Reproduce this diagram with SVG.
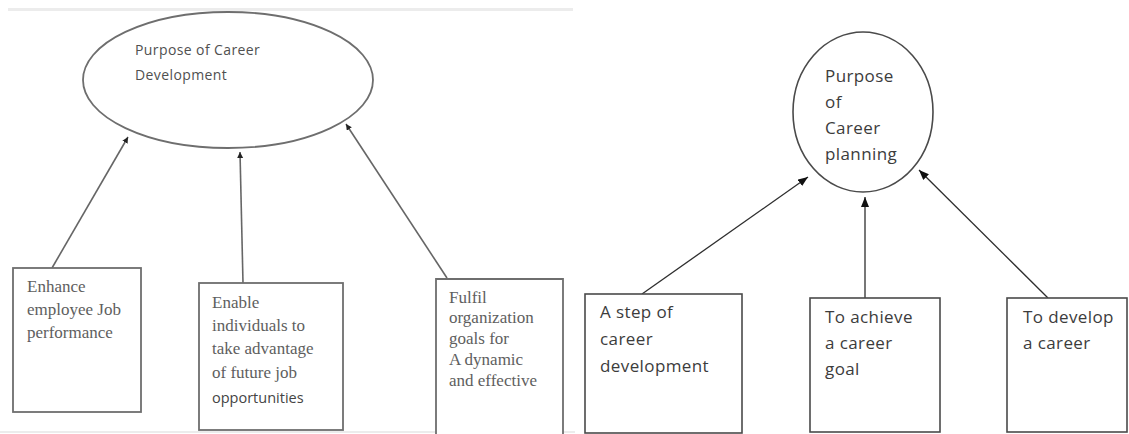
<svg xmlns="http://www.w3.org/2000/svg" width="1129" height="434" viewBox="0 0 1129 434">
  <style>
    .bg { fill: #ffffff; }
    .rule { fill: #ececec; }
    .l-shape { fill: #ffffff; stroke: #6e6e6e; stroke-width: 1.8; }
    .r-shape { fill: #ffffff; stroke: #4a4a4a; stroke-width: 1.6; }
    .l-edge { stroke: #666666; stroke-width: 1.6; fill: none; }
    .r-edge { stroke: #2e2e2e; stroke-width: 1.3; fill: none; }
    .sans-l { font-family: "Open Sans", "Liberation Sans", sans-serif; font-size: 14px; letter-spacing: 0.4px; fill: #505050; }
    .sans-r { font-family: "Open Sans", "Liberation Sans", sans-serif; font-size: 17px; letter-spacing: 0.4px; fill: #3c3c3c; }
    .serif { font-family: "Liberation Serif", "DejaVu Serif", serif; font-size: 17px; fill: #5e5e5e; }
    .sans-s { font-family: "Open Sans", "Liberation Sans", sans-serif; font-size: 14.5px; fill: #444444; }
  </style>
  <defs>
    <marker id="tipSmall" markerUnits="userSpaceOnUse" markerWidth="8" markerHeight="8" refX="6" refY="3" orient="auto">
      <path d="M0,0 L6,3 L0,6 z" fill="#222222"/>
    </marker>
    <marker id="tip" markerUnits="userSpaceOnUse" markerWidth="12" markerHeight="10" refX="10" refY="4" orient="auto">
      <path d="M0,0 L10,4 L0,8 z" fill="#111111"/>
    </marker>
  </defs>

  <rect class="bg" x="0" y="0" width="1129" height="434"/>
  <!-- faint page rules of the left panel -->
  <rect class="rule" x="8" y="8" width="565" height="3"/>
  <rect class="rule" x="0" y="431" width="575" height="2"/>

  <!-- connectors -->
  <g id="connectors">
    <line class="l-edge" x1="52" y1="268" x2="128" y2="137" marker-end="url(#tipSmall)"/>
    <line class="l-edge" x1="243" y1="283" x2="240" y2="152" marker-end="url(#tipSmall)"/>
    <line class="l-edge" x1="447" y1="278" x2="346" y2="124" marker-end="url(#tipSmall)"/>
    <line class="r-edge" x1="642" y1="294" x2="808" y2="177" marker-end="url(#tip)"/>
    <line class="r-edge" x1="865" y1="298" x2="865" y2="197" marker-end="url(#tip)"/>
    <line class="r-edge" x1="1048" y1="298" x2="919" y2="170" marker-end="url(#tip)"/>
  </g>

  <!-- left diagram -->
  <g id="career-development">
    <ellipse class="l-shape" cx="228" cy="80" rx="145" ry="68"/>
    <text class="sans-l" x="135" y="55">Purpose of Career</text>
    <text class="sans-l" x="135" y="80">Development</text>
  </g>
  <g id="enhance-performance">
    <rect class="l-shape" x="13" y="268" width="128" height="144"/>
    <text class="serif" x="27" y="292">Enhance</text>
    <text class="serif" x="27" y="315">employee Job</text>
    <text class="serif" x="27" y="338">performance</text>
  </g>
  <g id="future-opportunities">
    <rect class="l-shape" x="199" y="283" width="144" height="147"/>
    <text class="serif" x="212" y="308">Enable</text>
    <text class="serif" x="212" y="331">individuals to</text>
    <text class="serif" x="212" y="354">take advantage</text>
    <text class="serif" x="212" y="378">of future job</text>
    <text class="sans-s" x="212" y="403">opportunities</text>
  </g>
  <g id="organization-goals">
    <path class="l-shape" d="M436,436 V279 H563 V436"/>
    <text class="serif" x="449" y="303">Fulfil</text>
    <text class="serif" x="449" y="323">organization</text>
    <text class="serif" x="449" y="344">goals for</text>
    <text class="serif" x="449" y="365">A dynamic</text>
    <text class="serif" x="449" y="386">and effective</text>
  </g>

  <!-- right diagram -->
  <g id="career-planning">
    <ellipse class="r-shape" cx="863" cy="112" rx="70" ry="80"/>
    <text class="sans-r" x="825" y="82">Purpose</text>
    <text class="sans-r" x="825" y="108">of</text>
    <text class="sans-r" x="825" y="134">Career</text>
    <text class="sans-r" x="825" y="160">planning</text>
  </g>
  <g id="step-of-development">
    <rect class="r-shape" x="585" y="294" width="157" height="139"/>
    <text class="sans-r" x="600" y="318">A step of</text>
    <text class="sans-r" x="600" y="345">career</text>
    <text class="sans-r" x="600" y="372">development</text>
  </g>
  <g id="achieve-goal">
    <rect class="r-shape" x="810" y="298" width="130" height="134"/>
    <text class="sans-r" x="825" y="323">To achieve</text>
    <text class="sans-r" x="825" y="349">a career</text>
    <text class="sans-r" x="825" y="375">goal</text>
  </g>
  <g id="develop-career">
    <rect class="r-shape" x="1007" y="298" width="120" height="134"/>
    <text class="sans-r" x="1023" y="323">To develop</text>
    <text class="sans-r" x="1023" y="349">a career</text>
  </g>
</svg>
